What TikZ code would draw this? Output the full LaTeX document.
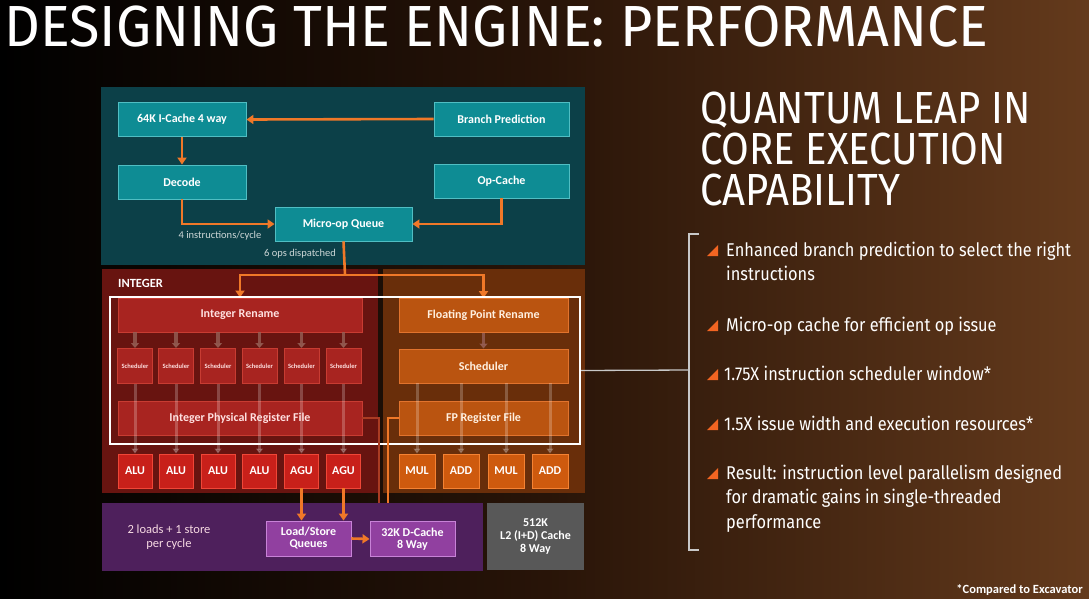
\documentclass[tikz,border=0pt]{standalone}
\usepackage{fontspec}
\setmainfont{Carlito}
\newfontfamily\titlefont[FakeStretch=0.96]{Fira Sans}
\newfontfamily\headfont[FakeStretch=0.89]{Fira Sans}
\newfontfamily\bulletfont[FakeStretch=0.885]{Fira Sans}
\usetikzlibrary{arrows.meta,shadings}
\definecolor{tealbg}{RGB}{12,64,72}
\definecolor{tealfill}{RGB}{14,140,148}
\definecolor{tealedge}{RGB}{80,190,195}
\definecolor{intbg}{RGB}{104,20,16}
\definecolor{intfill}{RGB}{168,36,32}
\definecolor{intedge}{RGB}{200,60,50}
\definecolor{alufill}{RGB}{200,32,26}
\definecolor{aluedge}{RGB}{240,70,55}
\definecolor{fpbg}{RGB}{105,46,10}
\definecolor{fpfill}{RGB}{186,84,16}
\definecolor{fpedge}{RGB}{225,115,45}
\definecolor{fpexfill}{RGB}{206,90,14}
\definecolor{fpexedge}{RGB}{245,130,50}
\definecolor{purpbg}{RGB}{78,32,92}
\definecolor{purpfill}{RGB}{145,64,160}
\definecolor{purpedge}{RGB}{200,130,215}
\definecolor{l2gray}{RGB}{88,88,88}
\definecolor{arroworange}{RGB}{240,120,40}
\definecolor{bulletorange}{RGB}{242,101,34}
\definecolor{labelgray}{RGB}{205,215,215}
\definecolor{bracketgray}{RGB}{200,200,200}
\definecolor{ghostarrow}{RGB}{150,95,85}
\definecolor{bgright}{RGB}{100,58,28}
\tikzset{
  x=1pt, y=-1pt,
  box/.style={draw, line width=0.9pt, text=white, inner sep=0pt, align=center,
    font=\bfseries\fontsize{12}{13}\selectfont, minimum height=34pt},
  tealbox/.style={box, fill=tealfill, draw=tealedge},
  intbox/.style={box, fill=intfill, draw=intedge, text=white!88!red},
  schedbox/.style={intbox, minimum width=35pt, minimum height=35pt,
    font=\bfseries\fontsize{6.5}{7}\selectfont},
  alubox/.style={box, fill=alufill, draw=aluedge, minimum width=34pt,
    font=\bfseries\fontsize{12}{13}\selectfont},
  fpbox/.style={box, fill=fpfill, draw=fpedge, text=white!88!orange, minimum width=169pt},
  fpexbox/.style={box, fill=fpexfill, draw=fpexedge, minimum width=36pt,
    font=\bfseries\fontsize{12}{13}\selectfont},
  purpbox/.style={box, fill=purpfill, draw=purpedge, minimum width=85pt, minimum height=35pt,
    font=\bfseries\fontsize{12}{12}\selectfont},
  oline/.style={draw=arroworange, line width=2.6pt},
  oarrow/.style={oline, -{Triangle[length=7pt,width=9pt]}},
  garrow/.style={draw=ghostarrow, line width=3.5pt, opacity=0.8, -{Triangle[length=5pt,width=8pt]}},
  farrow/.style={draw=white, line width=3pt, opacity=0.22, -{Triangle[length=5pt,width=7pt]}},
  smalllabel/.style={text=labelgray, font=\fontsize{10.5}{11}\selectfont, inner sep=0pt},
  bullettext/.style={anchor=base west, text=white, inner sep=0pt, font=\bulletfont\fontsize{18.5}{20}\selectfont},
  headline/.style={anchor=base west, text=white, inner sep=0pt, font=\headfont\fontsize{45}{41}\selectfont},
  bmark/.style={fill=bulletorange, draw=none},
}
\begin{document}
\begin{tikzpicture}
% background
\useasboundingbox (0,0) rectangle (1089,598);
\fill[black] (0,0) rectangle (1089,598);
\shade[left color=black, right color=bgright, middle color={rgb,255:red,40;green,20;blue,8}] (0,0) rectangle (1089,598);

% title
\node[anchor=base west, text=white, inner sep=0pt, font=\titlefont\fontsize{58}{60}\selectfont] (title) at (4,46) {DESIGNING THE ENGINE: PERFORMANCE};

% regions
\fill[tealbg] (101,87) rectangle (585,265);
\fill[intbg] (102,269) rectangle (378,493);
\fill[fpbg] (383,269) rectangle (585,493);
\fill[purpbg] (102,503) rectangle (483,571);
\node[fill=l2gray, minimum width=97pt, minimum height=67pt, inner sep=0pt, align=center, text=white,
  font=\bfseries\fontsize{12}{13}\selectfont] (l2) at (535.5,536.5) {512K\\L2 (I+D) Cache\\8 Way};

% front end
\node[tealbox, minimum width=128pt] (icache) at (182,119.5) {64K I-Cache 4 way};
\node[tealbox, minimum width=135pt] (bp) at (501.5,119) {Branch Prediction};
\node[tealbox, minimum width=128pt] (decode) at (182,182) {Decode};
\node[tealbox, minimum width=135pt] (opc) at (501.5,181) {Op-Cache};
\node[tealbox, minimum width=137pt] (muq) at (343.5,224) {Micro-op Queue};
\node[smalllabel] (l4) at (220,236) {4 instructions/cycle};
\node[smalllabel] (l6) at (300,254) {6 ops dispatched};

\draw[oarrow] (bp.west) -- (icache.east);
\draw[oarrow] (icache.south) -- (decode.north);
\draw[oarrow] (decode.south) |- (muq.west);
\draw[oarrow] (opc.south) |- (muq.east);

% integer
\node[anchor=base west, inner sep=0pt, text=white, font=\bfseries\fontsize{12.5}{13}\selectfont] (intlabel) at (118,287) {INTEGER};
\node[intbox, minimum width=244pt] (irn) at (240,315) {Integer Rename};
\node[intbox, minimum width=244pt] (irf) at (240,418) {Integer Physical Register File};
\foreach \i/\x in {1/135,2/176,3/218,4/259.5,5/301.5,6/343.5}{
  \node[schedbox] (s\i) at (\x,366) {Scheduler};
}
\foreach \i/\x/\t in {1/135/ALU,2/176/ALU,3/218/ALU,4/259.5/ALU,5/301.5/AGU,6/343.5/AGU}{
  \node[alubox] (a\i) at (\x,471) {\t};
}
\foreach \i in {1,...,6}{
  \draw[garrow] (irn.south -| s\i) -- (s\i.north);
  \draw[farrow] (s\i.south) -- (a\i.north);
}

% floating point
\node[fpbox] (frn) at (483.5,315.5) {Floating Point Rename};
\node[fpbox] (fsch) at (483.5,366) {Scheduler};
\node[fpbox] (frf) at (483.5,418) {FP Register File};
\foreach \i/\x/\t in {1/417/MUL,2/461/ADD,3/506/MUL,4/550/ADD}{
  \node[fpexbox] (f\i) at (\x,471) {\t};
  \draw[farrow] (fsch.south -| f\i) -- (f\i.north);
}
\draw[garrow] (frn.south) -- (fsch.north);

% dispatch
\coordinate (split) at (345,275);
\draw[oline] (muq.south) -- (split);
\draw[oarrow] (split) -| (irn.north);
\draw[oarrow] (split) -| (frn.north);

% white outline
\node[draw=white, line width=2pt, minimum width=470pt, minimum height=147pt, inner sep=0pt] (wbox) at (345,370.5) {};

% load/store
\node[align=center, text=white!85!purple, inner sep=0pt, font=\fontsize{12.5}{14}\selectfont] (lstext) at (169,537) {2 loads + 1 store\\per cycle};
\node[purpbox] (lsq) at (308.5,538.5) {Load/Store\\Queues};
\node[purpbox] (dc) at (412.5,539) {32K D-Cache\\8 Way};
\draw[oarrow] (a5.south) -- (lsq.north -| a5);
\draw[oarrow] (a6.south) -- (lsq.north -| a6);
\draw[oarrow] (lsq.east) -- (dc.west);
\coordinate (ie) at (379,503);
\coordinate (fe) at (388,503);
\draw[draw={rgb,255:red,170;green,60;blue,35}, line width=2.5pt] (irf.east) -| (ie);
\draw[draw=arroworange, line width=2.5pt] (frf.west) -| (fe);

% right side heading
\node[headline] (h1) at (700,123) {QUANTUM LEAP IN};
\node[headline] (h2) at (700,164) {CORE EXECUTION};
\node[headline] (h3) at (700,205) {CAPABILITY};

% bracket
\coordinate (bt) at (699,234);
\coordinate (bb) at (699,550);
\coordinate (bm) at (689,370);
\draw[bracketgray, line width=1.3pt] (bt) -- (689,234) -- (689,550) -- (bb);
\draw[bracketgray, line width=1.3pt] (wbox.east) -- (bm);

% bullets
\foreach \y in {256,331,380,430,479}{
  \fill[bmark] (707,\y) -- (718,\y) -- (718,\y-11) -- cycle;
}
\node[bullettext] (b1) at (726,256) {Enhanced branch prediction to select the right};
\node[bullettext] (b1b) at (726,280) {instructions};
\node[bullettext] (b2) at (726,331) {Micro-op cache for efficient op issue};
\node[bullettext] (b3) at (724,380) {1.75X instruction scheduler window*};
\node[bullettext] (b4) at (724,430) {1.5X issue width and execution resources*};
\node[bullettext] (b5) at (726,479) {Result: instruction level parallelism designed};
\node[bullettext] (b5b) at (726,503) {for dramatic gains in single-threaded};
\node[bullettext] (b5c) at (726,528) {performance};

% footnote
\node[anchor=base east, text=white, inner sep=0pt, font=\bfseries\fontsize{12.5}{13}\selectfont] (foot) at (1083,593) {*Compared to Excavator};
\end{tikzpicture}
\end{document}
